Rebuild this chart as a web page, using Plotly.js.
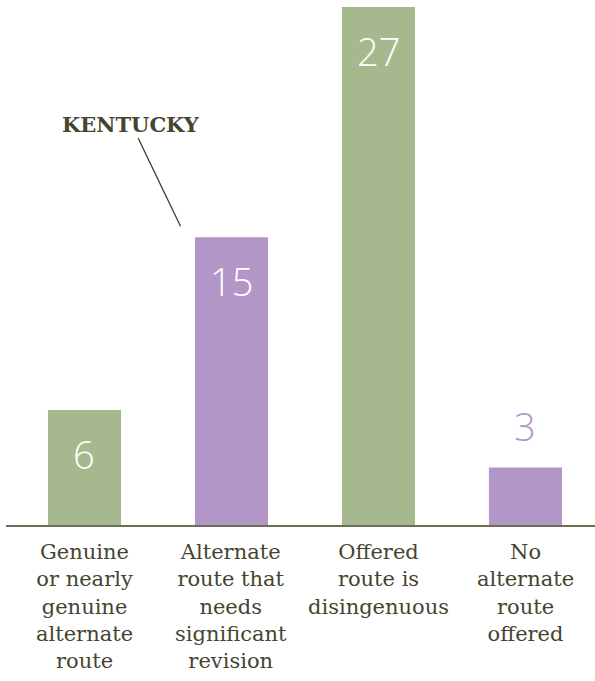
<!DOCTYPE html>
<html><head><meta charset="utf-8">
<script src="https://cdn.plot.ly/plotly-3.0.1.min.js"></script>
<style>html,body{margin:0;padding:0;background:#fff}#c{width:595px;height:681px}</style>
</head><body><div id="c"></div>
<script>
var categories = ["Genuine<br>or nearly<br>genuine<br>alternate<br>route",
                  "Alternate<br>route that<br>needs<br>significant<br>revision",
                  "Offered<br>route is<br>disingenuous",
                  "No<br>alternate<br>route<br>offered"];
var values = [6, 15, 27, 3];
var barColors = ["#a6b98e", "#b396c8", "#a6b98e", "#b396c8"];
var calloutText = "KENTUCKY";
var calloutIndex = 1;

var serif = "DejaVu Serif";
var annotations = values.map(function (v, i) {
  var inside = v > 4;
  return {
    x: i, y: v, xref: "x", yref: "y", text: String(v), showarrow: false,
    yanchor: inside ? "top" : "bottom", yshift: inside ? -16 : 13,
    font: {family: "Open Sans", size: 38, weight: 300, color: inside ? "#ffffff" : barColors[i]}
  };
});
categories.forEach(function (c, i) {
  annotations.push({
    x: i, y: 0, xref: "x", yref: "y", text: c, showarrow: false,
    yanchor: "top", yshift: -13, align: "center",
    font: {family: serif, size: 21, color: "#45452f"}
  });
});
annotations.push({
  x: calloutIndex, y: values[calloutIndex], xref: "x", yref: "y",
  xshift: -51, yshift: 11, text: "<b>" + calloutText + "</b>",
  showarrow: true, arrowhead: 0, arrowwidth: 1.3, arrowcolor: "#3c3c2c",
  ax: -49, ay: -102, standoff: 0,
  font: {family: serif, size: 21, color: "#45452f"}
});

Plotly.newPlot("c", [{
  type: "bar", x: [0, 1, 2, 3], y: values,
  marker: {color: barColors}, hoverinfo: "none"
}], {
  width: 595, height: 681,
  margin: {l: 6, r: 0, t: 7, b: 156},
  paper_bgcolor: "#ffffff", plot_bgcolor: "#ffffff",
  font: {family: serif, size: 21, color: "#45452f"},
  bargap: 0.503, showlegend: false,
  xaxis: {
    range: [-0.534, 3.473], showticklabels: false,
    showline: true, linecolor: "#6e6e58", linewidth: 2, ticks: "", showgrid: false,
    zeroline: false
  },
  yaxis: {range: [0, 27], visible: false, showgrid: false, zeroline: false},
  annotations: annotations
}, {displayModeBar: false, staticPlot: true});
</script></body></html>
